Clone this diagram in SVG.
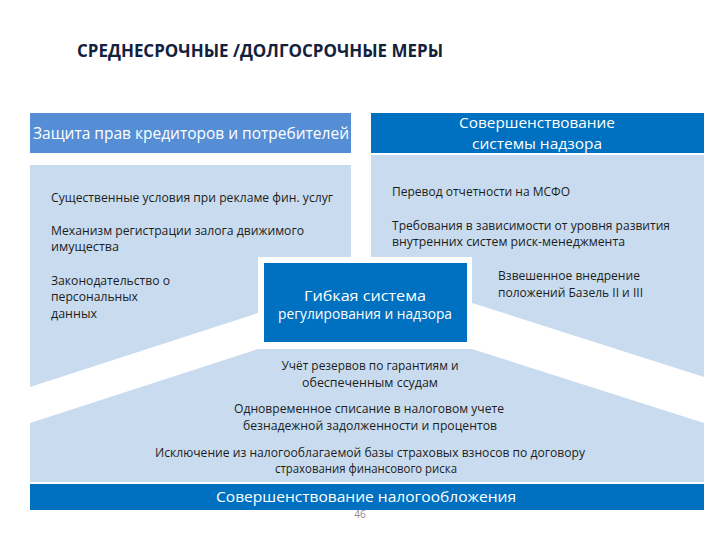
<svg xmlns="http://www.w3.org/2000/svg" width="720" height="540" viewBox="0 0 720 540">
<style>
.t{font-family:"Open Sans","Liberation Sans",sans-serif;fill:#1c1c1c;font-size:12px}
.w{font-family:"Open Sans","Liberation Sans",sans-serif;fill:#ffffff}
.light{fill:#c9dcef}
.dark{fill:#0070c0}
</style>
<rect width="720" height="540" fill="#ffffff"/>
<text x="77" y="57" font-family="'Open Sans','Liberation Sans',sans-serif" font-weight="bold" font-size="17" fill="#14213d" textLength="366" lengthAdjust="spacingAndGlyphs">СРЕДНЕСРОЧНЫЕ /ДОЛГОСРОЧНЫЕ МЕРЫ</text>

<g id="left-panel">
<polygon class="light" points="30,165 351,165 351,300 258,313 30,387"/>
<rect x="30" y="113" width="321" height="40" fill="#558ed5"/>
<text class="w" x="33" y="139" font-size="16" textLength="316" lengthAdjust="spacingAndGlyphs">Защита прав кредиторов и потребителей</text>
<text class="t" x="51" y="202" textLength="282" lengthAdjust="spacingAndGlyphs">Существенные условия при рекламе фин. услуг</text>
<text class="t" x="51" y="235" textLength="253" lengthAdjust="spacingAndGlyphs">Механизм регистрации залога движимого</text>
<text class="t" x="51" y="251" textLength="68" lengthAdjust="spacingAndGlyphs">имущества</text>
<text class="t" x="51" y="285" textLength="119" lengthAdjust="spacingAndGlyphs">Законодательство о</text>
<text class="t" x="51" y="301" textLength="87" lengthAdjust="spacingAndGlyphs">персональных</text>
<text class="t" x="51" y="318" textLength="46" lengthAdjust="spacingAndGlyphs">данных</text>
</g>

<g id="right-panel">
<polygon class="light" points="371,155 704,155 704,377 472,303 371,303"/>
<rect class="dark" x="371" y="113" width="333" height="40"/>
<text class="w" x="537" y="128" font-size="15" text-anchor="middle" textLength="156" lengthAdjust="spacingAndGlyphs">Совершенствование</text>
<text class="w" x="537" y="149" font-size="15" text-anchor="middle" textLength="130" lengthAdjust="spacingAndGlyphs">системы надзора</text>
<text class="t" x="392" y="196" textLength="178" lengthAdjust="spacingAndGlyphs">Перевод отчетности на МСФО</text>
<text class="t" x="392" y="230" textLength="278" lengthAdjust="spacingAndGlyphs">Требования в зависимости от уровня развития</text>
<text class="t" x="392" y="246" textLength="233" lengthAdjust="spacingAndGlyphs">внутренних систем риск-менеджмента</text>
<text class="t" x="498" y="280" textLength="142" lengthAdjust="spacingAndGlyphs">Взвешенное внедрение</text>
<text class="t" x="498" y="297" textLength="145" lengthAdjust="spacingAndGlyphs">положений Базель II и III</text>
</g>

<g id="bottom-panel">
<polygon class="light" points="30,423 258,349 472,349 704,423 704,482 30,482"/>
<text class="t" x="370" y="370" text-anchor="middle" textLength="177" lengthAdjust="spacingAndGlyphs">Учёт резервов по гарантиям и</text>
<text class="t" x="370" y="387" text-anchor="middle" textLength="136" lengthAdjust="spacingAndGlyphs">обеспеченным ссудам</text>
<text class="t" x="369" y="413" text-anchor="middle" textLength="270" lengthAdjust="spacingAndGlyphs">Одновременное списание в налоговом учете</text>
<text class="t" x="370" y="430" text-anchor="middle" textLength="254" lengthAdjust="spacingAndGlyphs">безнадежной задолженности и процентов</text>
<text class="t" x="370" y="457" text-anchor="middle" textLength="430" lengthAdjust="spacingAndGlyphs">Исключение из налогооблагаемой базы страховых взносов по договору</text>
<text class="t" x="366" y="473" text-anchor="middle" textLength="182" lengthAdjust="spacingAndGlyphs">страхования финансового риска</text>
<rect class="dark" x="30" y="484" width="674" height="26"/>
<text class="w" x="366" y="502" font-size="15" text-anchor="middle" textLength="300" lengthAdjust="spacingAndGlyphs">Совершенствование налогообложения</text>
</g>

<g id="center-box">
<rect x="258" y="257" width="214" height="91" fill="#ffffff"/>
<rect class="dark" x="264" y="263" width="203" height="79"/>
<text class="w" x="365" y="301" font-size="14" text-anchor="middle" textLength="122" lengthAdjust="spacingAndGlyphs">Гибкая система</text>
<text class="w" x="365" y="319" font-size="14" text-anchor="middle" textLength="174" lengthAdjust="spacingAndGlyphs">регулирования и надзора</text>
</g>

<text x="360" y="518" font-family="'Open Sans','Liberation Sans',sans-serif" font-size="10" fill="#8a8a8a" text-anchor="middle">46</text>
</svg>
